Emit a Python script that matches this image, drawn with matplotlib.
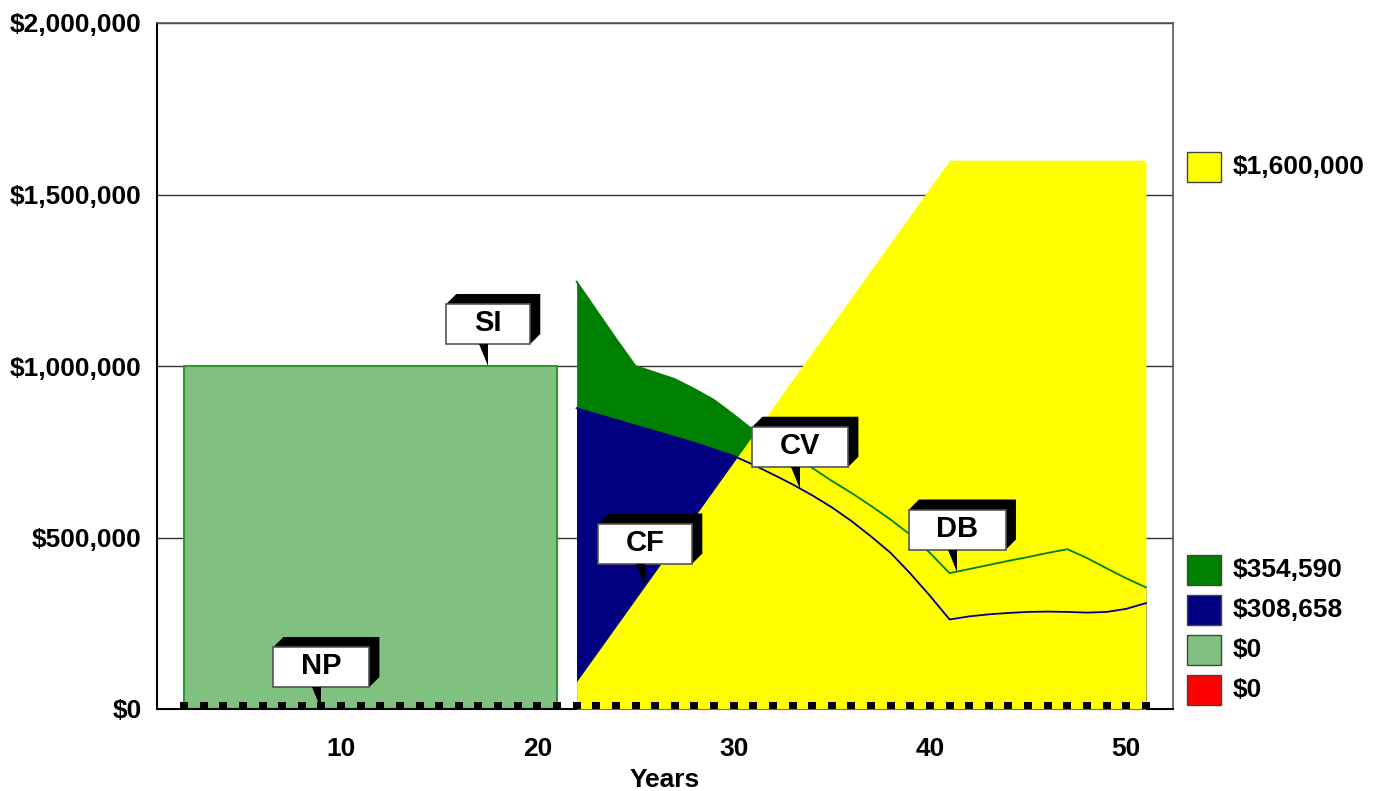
import matplotlib
matplotlib.use("Agg")
import matplotlib.pyplot as plt
from matplotlib.patches import Polygon, Rectangle
from matplotlib.path import Path
import numpy as np

plt.rcParams['font.family'] = ['Liberation Sans', 'DejaVu Sans']
plt.rcParams['font.weight'] = 'bold'

# ---- data -------------------------------------------------------------
years_early = list(range(2, 22))          # years 2..21
years_late = list(range(22, 52))          # years 22..51
years_all = list(range(2, 52))

si_values = [1_000_000] * 20              # light green block

db_values = [80_000, 160_000, 240_000, 320_000, 400_000, 480_000, 560_000,
             640_000, 720_000, 800_000, 880_000, 960_000, 1_040_000,
             1_120_000, 1_200_000, 1_280_000, 1_360_000, 1_440_000,
             1_520_000, 1_600_000, 1_600_000, 1_600_000, 1_600_000,
             1_600_000, 1_600_000, 1_600_000, 1_600_000, 1_600_000,
             1_600_000, 1_600_000]        # yellow

total_values = [1_246_000, 1_163_000, 1_080_000, 1_000_000, 981_000, 962_000,
                933_000, 901_000, 858_000, 813_000, 776_000, 740_000,
                703_000, 665_000, 630_000, 592_000, 552_000, 508_000,
                455_000, 396_000, 408_000, 420_000, 432_000, 443_000,
                455_000, 466_000, 440_000, 410_000, 381_000, 354_590]  # dark green

cv_values = [877_000, 860_000, 843_000, 826_000, 810_000, 793_000, 776_000,
             757_000, 738_000, 712_000, 684_000, 655_000, 623_000, 588_000,
             548_000, 503_000, 455_000, 395_000, 330_000, 261_000, 270_000,
             276_000, 280_000, 283_000, 284_000, 283_000, 281_000, 283_000,
             292_000, 308_658]            # navy

np_values = [0] * 50                      # dotted baseline series
loan_values = [0] * 50                    # red series

y_ticks = [0, 500_000, 1_000_000, 1_500_000, 2_000_000]
x_ticks = [10, 20, 30, 40, 50]

YELLOW = '#FFFF00'
DKGREEN = '#008000'
NAVY = '#000080'
LTGREEN = '#80C080'
RED = '#FF0000'

# ---- figure -----------------------------------------------------------
W, H = 1384, 791
fig = plt.figure(figsize=(W / 100, H / 100), dpi=100)
ax = fig.add_axes([157 / W, 82 / H, 1016 / W, 686 / H])
ax.set_xlim(0.625, 52.38)
ax.set_ylim(0, 2_000_000)

ax.fill_between(years_early, 0, si_values, facecolor=LTGREEN,
                edgecolor='#2E9A2E', linewidth=1.5, zorder=1)
ax.fill_between(years_late, 0, total_values, color=DKGREEN, lw=0, zorder=1)
ax.fill_between(years_late, 0, cv_values, color=NAVY, lw=0, zorder=2)
ax.fill_between(years_late, 0, db_values, color=YELLOW, lw=0, zorder=3)
ax.plot(years_late, total_values, color=DKGREEN, lw=1.3, zorder=4)
ax.plot(years_late, cv_values, color=NAVY, lw=1.3, zorder=4)

# square dots sitting on the baseline
dot = Path([(-0.5, 0), (0.5, 0), (0.5, 0.85), (-0.5, 0.85), (-0.5, 0)],
           [Path.MOVETO, Path.LINETO, Path.LINETO, Path.LINETO, Path.CLOSEPOLY])
ax.plot(years_all, np_values, ls='none', marker=dot, markersize=10.5,
        markerfacecolor='black', markeredgewidth=0, zorder=5, clip_on=False)

ax.set_yticks(y_ticks)
ax.set_yticklabels(['${:,.0f}'.format(v) for v in y_ticks])
ax.set_xticks(x_ticks)
ax.set_xticklabels([str(v) for v in x_ticks])
ax.tick_params(axis='y', length=0, pad=11, labelsize=19)
ax.tick_params(axis='x', length=0, pad=20, labelsize=19)
ax.set_xlabel('Years', fontsize=19, fontweight='bold', labelpad=5)

ax.yaxis.grid(True, color='#333333', lw=1.0)
ax.set_axisbelow(True)
for side in ('left', 'bottom'):
    ax.spines[side].set_color('black')
    ax.spines[side].set_linewidth(1.5)
for side in ('right', 'top'):
    ax.spines[side].set_color('#555555')
    ax.spines[side].set_linewidth(1.2)

fig.canvas.draw()


def callout(x, y, text, width):
    """Raised white label with a pointer down to (x, y) in data units."""
    tx, ty = ax.transData.transform((x, y))
    h, d = 40, 10
    L, R = tx - width / 2, tx + width / 2
    B = ty + 22
    T = B + h
    fig.add_artist(Polygon([(L, T), (L + d, T + d), (R + d, T + d),
                            (R + d, B + d), (R, B)], closed=True,
                           transform=None, facecolor='black',
                           edgecolor='none', zorder=10))
    fig.add_artist(Rectangle((L, B), width, h, transform=None,
                             facecolor='white', edgecolor='#555555',
                             linewidth=1.2, zorder=11))
    fig.add_artist(Polygon([(tx - 9, B), (tx, B), (tx, ty)], closed=True,
                           transform=None, facecolor='black',
                           edgecolor='none', zorder=11))
    fig.text((L + R) / 2 / W, (B + T) / 2 / H + 1 / H, text, ha='center',
             va='center', fontsize=21, fontweight='bold', zorder=12)


callout(17.5, np.interp(17.5, years_early, si_values), 'SI', 84)
callout(9.0, np.interp(9.0, years_all, np_values), 'NP', 96)
callout(25.5, np.interp(25.5, years_late, db_values), 'CF', 94)
callout(33.4, np.interp(33.4, years_late, cv_values), 'CV', 96)
callout(41.4, np.interp(41.4, years_late, total_values), 'DB', 97)

# ---- legend of ending values --------------------------------------------
legend_items = [(YELLOW, db_values[-1], 167),
                (DKGREEN, total_values[-1], 570),
                (NAVY, cv_values[-1], 610),
                (LTGREEN, si_values[-1] * 0, 650),
                (RED, loan_values[-1], 690)]
for color, value, yc in legend_items:
    fig.add_artist(Rectangle((1187 / W, (H - yc - 15) / H), 34 / W, 30 / H,
                             transform=fig.transFigure, facecolor=color,
                             edgecolor='#444444', linewidth=1.0))
    fig.text(1233 / W, (H - yc) / H, '${:,.0f}'.format(value), ha='left',
             va='center', fontsize=19, fontweight='bold')

fig.savefig('out.png', dpi=100)
